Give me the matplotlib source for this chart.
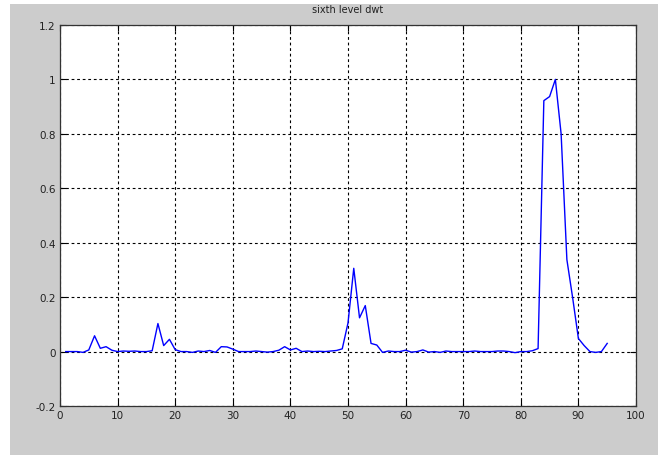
import numpy as np
import matplotlib
matplotlib.use("Agg")
import matplotlib.pyplot as plt
from matplotlib.patches import Rectangle

# sixth level dwt coefficients (normalised), samples 1..95
samples = np.arange(1, 96)
coeffs = [
    0.0, 0.0, 0.0, -0.003, 0.006, 0.058, 0.012, 0.018, 0.005, 0.0,
    0.002, 0.001, 0.002, 0.0, 0.0, 0.003, 0.103, 0.022, 0.045, 0.007,
    0.0, 0.0, -0.003, 0.002, 0.0, 0.004, -0.003, 0.018, 0.017, 0.009,
    0.0, 0.0, 0.0, 0.002, 0.0, -0.002, 0.0, 0.005, 0.018, 0.006,
    0.012, 0.0, 0.002, 0.0, 0.001, 0.0, 0.002, 0.004, 0.010, 0.105,
    0.306, 0.124, 0.169, 0.030, 0.024, -0.003, 0.002, 0.0, 0.0, 0.005,
    -0.002, 0.0, 0.006, -0.002, 0.0, -0.003, 0.002, 0.0, 0.0, 0.0,
    0.0, 0.002, 0.0, 0.0, 0.0, 0.002, 0.002, 0.0, -0.004, 0.0,
    0.0, 0.003, 0.011, 0.922, 0.937, 1.0, 0.80, 0.338, 0.198, 0.048,
    0.022, 0.0, -0.003, 0.0, 0.030,
]
xticks = np.arange(0, 101, 10)
yticks = [-0.2, 0, 0.2, 0.4, 0.6, 0.8, 1, 1.2]
yticklabels = ["-0.2", "0", "0.2", "0.4", "0.6", "0.8", "1", "1.2"]

fig = plt.figure(figsize=(6.58, 4.56), dpi=100, facecolor="white")
# matlab style grey figure area
fig.patches.append(Rectangle((10 / 658, 0), 648 / 658, 451 / 456,
                             transform=fig.transFigure, facecolor="#cccccc",
                             edgecolor="none", zorder=-10))

ax = fig.add_axes([60 / 658, 1 - 407 / 456, 576 / 658, 381 / 456])
ax.plot(samples, coeffs, color="#0000ff", linewidth=1.0)

ax.set_xlim(0, 100)
ax.set_ylim(-0.2, 1.2)
ax.set_xticks(xticks)
ax.set_yticks(yticks)
ax.set_yticklabels(yticklabels)
ax.grid(color="black", linestyle=(0, (2.5, 2.5)), linewidth=0.8)
ax.tick_params(direction="in", length=4, width=0.8, labelsize=7.5,
               labelcolor="#222222", top=True, right=True, pad=3)
for s in ax.spines.values():
    s.set_linewidth(0.9)
    s.set_color("#333333")

fig.text((60 + 636) / 2 / 658, 1 - 10 / 456, "sixth level dwt",
         ha="center", va="center", fontsize=7, color="#222222")

fig.savefig("out.png", dpi=100, facecolor=fig.get_facecolor())
